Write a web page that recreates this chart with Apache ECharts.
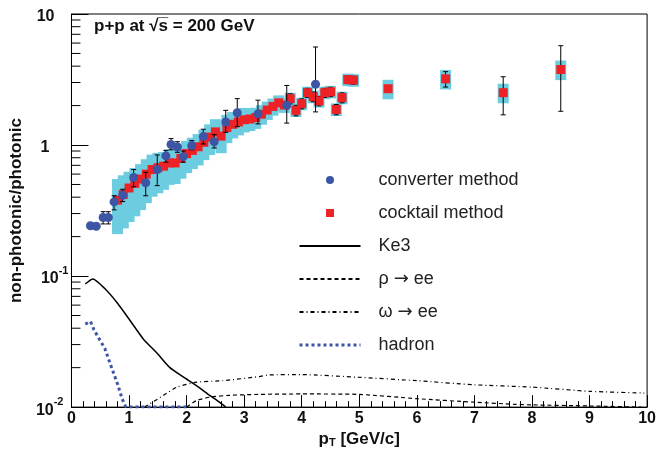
<!DOCTYPE html>
<html>
<head>
<meta charset="utf-8">
<script src="https://cdn.jsdelivr.net/npm/echarts@6/dist/echarts.min.js"></script>
<style>
html,body{margin:0;padding:0;background:#fff}
#chart{width:659px;height:453px}
</style>
</head>
<body>
<div id="chart"></div>
<script>
// converter method (blue circles)
var cvX = [0.33,0.43,0.55,0.64,0.74,0.89,1.08,1.29,1.49,1.64,1.73,1.84,1.94,2.09,2.29,2.48,2.68,2.88,3.24,3.74,4.24];
var cvY = [0.242,0.24,0.28,0.28,0.368,0.413,0.565,0.515,0.65,0.826,1.01,0.966,0.815,0.99,1.16,1.06,1.50,1.76,1.73,2.01,2.91];
var cvLo = [0.242,0.24,0.25,0.25,0.32,0.37,0.48,0.41,0.49,0.74,0.92,0.88,0.74,0.92,1.02,0.95,1.25,1.38,1.45,1.47,1.79];
var cvHi = [0.242,0.24,0.31,0.31,0.41,0.46,0.65,0.62,0.84,0.91,1.12,1.06,0.90,1.08,1.32,1.20,1.84,2.26,2.20,2.85,5.6];

// cocktail method (red squares)
var ckX = [0.8,0.9,1.0,1.1,1.2,1.3,1.4,1.5,1.6,1.7,1.8,1.9,2.0,2.1,2.2,2.3,2.4,2.5,2.6,2.7,2.8,2.9,
           3.0,3.1,3.2,3.3,3.4,3.5,3.6,3.7,3.8,3.9,4.0,4.1,4.2,4.3,4.4,4.5,4.6,4.7,4.8,4.9,
           5.5,6.5,7.5,8.5];
var ckY = [0.38,0.42,0.47,0.51,0.55,0.60,0.65,0.67,0.69,0.73,0.73,0.79,0.86,0.91,0.97,1.05,1.15,1.26,1.17,1.36,1.44,1.50,
           1.56,1.58,1.62,1.72,1.85,1.97,2.10,2.02,2.26,1.84,2.07,2.51,2.34,2.17,2.51,2.55,1.87,2.30,3.16,3.13,
           2.69,3.20,2.51,3.77];
// statistical error (absolute)
var ckErr = [0.01,0.01,0.015,0.015,0.02,0.02,0.02,0.02,0.02,0.02,0.02,0.025,0.03,0.03,0.03,0.03,0.04,0.04,0.04,0.04,0.045,0.045,
             0.05,0.05,0.05,0.06,0.07,0.08,0.1,0.1,0.2,0.17,0.18,0.2,0.2,0.18,0.2,0.21,0.17,0.2,0.22,0.22,
             0.12,0.43,0.81,1.96];
// systematic band (fraction down / up)
var ckSysDn = [0.45,0.45,0.45,0.44,0.42,0.40,0.38,0.36,0.34,0.32,0.31,0.30,0.29,0.28,0.28,0.27,0.27,0.27,0.26,0.24,0.22,0.21,
               0.20,0.19,0.18,0.17,0.16,0.15,0.14,0.13,0.11,0.11,0.11,0.11,0.11,0.11,0.11,0.11,0.11,0.11,0.11,0.11,
               0.17,0.17,0.17,0.17];
var ckSysUp = [0.45,0.40,0.33,0.31,0.30,0.30,0.30,0.30,0.28,0.27,0.26,0.26,0.25,0.25,0.25,0.25,0.25,0.25,0.25,0.25,0.24,0.24,
               0.23,0.21,0.19,0.17,0.16,0.15,0.14,0.13,0.11,0.11,0.11,0.11,0.11,0.11,0.11,0.11,0.11,0.11,0.11,0.11,
               0.17,0.17,0.17,0.17];

// curves
var ke3X = [0.24,0.37,0.57,0.8,1.03,1.25,1.48,1.71,1.94,2.17,2.4,2.57,2.68];
var ke3Y = [0.087,0.095,0.081,0.062,0.045,0.033,0.026,0.020,0.017,0.0146,0.0123,0.0109,0.01];
var rhoX = [2.0,2.17,2.4,2.74,3.26,4.0,5.0,6.0,7.0,7.7,8.0,9.0,9.9];
var rhoY = [0.01,0.0112,0.0119,0.0123,0.0125,0.0126,0.0125,0.0116,0.0109,0.0105,0.0104,0.0102,0.01];
var omX = [1.27,1.6,1.83,2.17,2.63,3.26,3.43,4.0,4.97,6.0,7.0,8.0,9.0,9.95];
var omY = [0.01,0.0123,0.0142,0.0155,0.0159,0.0171,0.0176,0.0177,0.0169,0.0159,0.0148,0.0142,0.0132,0.0128];
var hadX = [0.24,0.33,0.39,0.45,0.58,0.68,0.8,0.88,0.94,1.0,1.5,2.0];
var hadY = [0.043,0.045,0.039,0.035,0.028,0.021,0.015,0.0116,0.0101,0.01,0.01,0.01];

var names = ['converter method','cocktail method','Ke3','\u03c1 \u2192 ee','\u03c9 \u2192 ee','hadron'];

var FONT = 'Liberation Sans, Arial, Helvetica, sans-serif';
var BLUE = '#3c55a5', RED = '#ec2227', CYAN = '#6ccde0';

function zip(xs, ys) {
    return xs.map(function (x, i) { return [x, ys[i]]; });
}

// minor ticks on the log axis: 2..9 of every decade
var minorVals = [];
[0.01, 0.1, 1].forEach(function (d) {
    for (var k = 2; k <= 9; k++) minorVals.push([0, +(d * k).toPrecision(3)]);
});

function errBar(params, api) {
    var x = api.value(0);
    var top = api.coord([x, api.value(2)]);
    var bot = api.coord([x, api.value(1)]);
    var c = 2.5;
    var st = { stroke: '#000', lineWidth: 1 };
    if (Math.abs(top[1] - bot[1]) < 1) return null;
    return {
        type: 'group',
        children: [
            { type: 'line', shape: { x1: top[0], y1: top[1], x2: bot[0], y2: bot[1] }, style: st },
            { type: 'line', shape: { x1: top[0] - c, y1: top[1], x2: top[0] + c, y2: top[1] }, style: st },
            { type: 'line', shape: { x1: bot[0] - c, y1: bot[1], x2: bot[0] + c, y2: bot[1] }, style: st }
        ]
    };
}

function sysBox(params, api) {
    var x = api.value(0);
    var top = api.coord([x, api.value(2)]);
    var bot = api.coord([x, api.value(1)]);
    var w = 11;
    return {
        type: 'rect',
        shape: { x: top[0] - w / 2, y: top[1], width: w, height: bot[1] - top[1] },
        style: { fill: CYAN }
    };
}

function minorTick(params, api) {
    var p = api.coord([api.value(0), api.value(1)]);
    return {
        type: 'line',
        shape: { x1: p[0], y1: p[1], x2: p[0] + 9, y2: p[1] },
        style: { stroke: '#000', lineWidth: 1 }
    };
}

var sysData = ckX.map(function (x, i) {
    return [x, ckY[i] * (1 - ckSysDn[i]), ckY[i] * (1 + ckSysUp[i])];
});
var ckErrData = ckX.map(function (x, i) {
    return [x, ckY[i] - ckErr[i], ckY[i] + ckErr[i]];
});
var cvErrData = cvX.map(function (x, i) {
    return [x, cvLo[i], cvHi[i]];
});

// legend: hide the dot that line series put in the middle of the icon
var noDot = { opacity: 0 };
var legendData = [
    { name: names[0], icon: 'circle' },
    { name: names[1], icon: 'path://M0,0H10V10H0Z' },
    { name: names[2], itemStyle: noDot },
    { name: names[3], itemStyle: noDot },
    { name: names[4], itemStyle: noDot },
    { name: names[5], itemStyle: noDot, lineStyle: { width: 3, type: [3, 3], color: BLUE } }
];

var chart = echarts.init(document.getElementById('chart'));
chart.setOption({
    animation: false,
    backgroundColor: '#fff',
    textStyle: { fontFamily: FONT },
    title: {
        text: 'p+p at \u221As\u0305 = 200 GeV',
        left: 94,
        top: 18,
        padding: 0,
        textStyle: { fontFamily: FONT, fontSize: 17, fontWeight: 'bold', color: '#111' }
    },
    legend: {
        data: legendData,
        orient: 'vertical',
        left: 298,
        top: 170,
        padding: 0,
        itemWidth: 61,
        itemHeight: 8,
        itemGap: 13,
        symbolKeepAspect: true,
        formatter: function (name) {
            // arrow from DejaVu so it gets its full length
            return name.indexOf('\u2192') < 0 ? name : name.replace('\u2192', '{ar|\u2192}');
        },
        textStyle: {
            fontFamily: FONT, fontSize: 18, color: '#222', lineHeight: 20, padding: [0, 0, 0, 13],
            rich: {
                ar: { fontFamily: 'DejaVu Sans', fontSize: 18, color: '#222', lineHeight: 20 }
            }
        }
    },
    grid: {
        left: 67, right: 9, top: 14, bottom: 43,
        show: true, borderColor: '#000', borderWidth: 1,
        containLabel: false
    },
    xAxis: {
        type: 'value',
        min: 0, max: 10, interval: 1,
        name: 'p{sub|T} [GeV/c]',
        nameLocation: 'middle',
        nameGap: 23,
        nameTextStyle: {
            fontFamily: FONT, fontSize: 17, fontWeight: 'bold', color: '#111',
            rich: {
                sub: { fontFamily: FONT, fontSize: 11, fontWeight: 'bold', color: '#111', verticalAlign: 'bottom', lineHeight: 12 }
            }
        },
        axisLine: { lineStyle: { color: '#000', width: 1 } },
        axisTick: { inside: true, length: 12, lineStyle: { color: '#000' } },
        minorTick: { show: true, splitNumber: 5, length: 6, lineStyle: { color: '#000' } },
        splitLine: { show: false },
        axisLabel: { fontFamily: FONT, fontSize: 16, fontWeight: 'bold', color: '#111', margin: 3 }
    },
    yAxis: {
        type: 'log',
        logBase: 10,
        min: 0.01, max: 10,
        name: 'non-photonic/photonic',
        nameLocation: 'middle',
        nameGap: 34,
        nameTextStyle: { fontFamily: FONT, fontSize: 17, fontWeight: 'bold', color: '#111' },
        axisLine: { show: true, lineStyle: { color: '#000', width: 1 } },
        axisTick: { inside: true, length: 17, lineStyle: { color: '#000' } },
        splitLine: { show: false },
        axisLabel: {
            margin: 3,
            color: '#111',
            formatter: function (v) {
                if (v >= 9) return '{n|10}{p1|}';
                if (v >= 0.9) return '{n|1}{p2|}';
                if (v >= 0.09) return '{n|10}{s|-1}';
                return '{n|10}{s|-2}{p3|}';
            },
            rich: {
                n: { fontFamily: FONT, fontSize: 16, fontWeight: 'bold', color: '#111', lineHeight: 22, verticalAlign: 'bottom' },
                s: { fontFamily: FONT, fontSize: 11, fontWeight: 'bold', color: '#111', lineHeight: 12, verticalAlign: 'top' },
                p1: { width: 14 },
                p2: { width: 19 },
                p3: { width: 5 }
            }
        }
    },
    series: [
        {
            type: 'custom',
            renderItem: sysBox,
            data: sysData,
            encode: { x: 0, y: [1, 2] },
            z: 1,
            silent: true
        },
        {
            type: 'custom',
            renderItem: errBar,
            data: ckErrData,
            encode: { x: 0, y: [1, 2] },
            z: 2,
            silent: true
        },
        {
            name: names[1],
            type: 'scatter',
            symbol: 'rect',
            symbolSize: 9,
            itemStyle: { color: RED, opacity: 1 },
            data: zip(ckX, ckY),
            z: 3
        },
        {
            type: 'custom',
            renderItem: errBar,
            data: cvErrData,
            encode: { x: 0, y: [1, 2] },
            z: 4,
            silent: true
        },
        {
            name: names[0],
            type: 'scatter',
            symbol: 'circle',
            symbolSize: 9,
            itemStyle: { color: BLUE, opacity: 1 },
            data: zip(cvX, cvY),
            z: 5
        },
        {
            name: names[2],
            type: 'line',
            symbol: 'none',
            smooth: 0.2,
            lineStyle: { color: '#000', width: 1.5 },
            itemStyle: { color: '#000' },
            data: zip(ke3X, ke3Y),
            z: 6
        },
        {
            name: names[3],
            type: 'line',
            symbol: 'none',
            smooth: 0.2,
            lineStyle: { color: '#000', width: 1.2, type: [4, 3] },
            itemStyle: { color: '#000' },
            data: zip(rhoX, rhoY),
            z: 6
        },
        {
            name: names[4],
            type: 'line',
            symbol: 'none',
            smooth: 0.2,
            lineStyle: { color: '#000', width: 1.2, type: [4, 3, 1, 3] },
            itemStyle: { color: '#000' },
            data: zip(omX, omY),
            z: 6
        },
        {
            name: names[5],
            type: 'line',
            symbol: 'none',
            lineStyle: { color: BLUE, width: 3, type: [3, 3] },
            itemStyle: { color: BLUE },
            data: zip(hadX, hadY),
            z: 6
        },
        {
            type: 'custom',
            renderItem: minorTick,
            data: minorVals,
            encode: { x: 0, y: 1 },
            z: 7,
            silent: true
        }
    ]
});
</script>
</body>
</html>
